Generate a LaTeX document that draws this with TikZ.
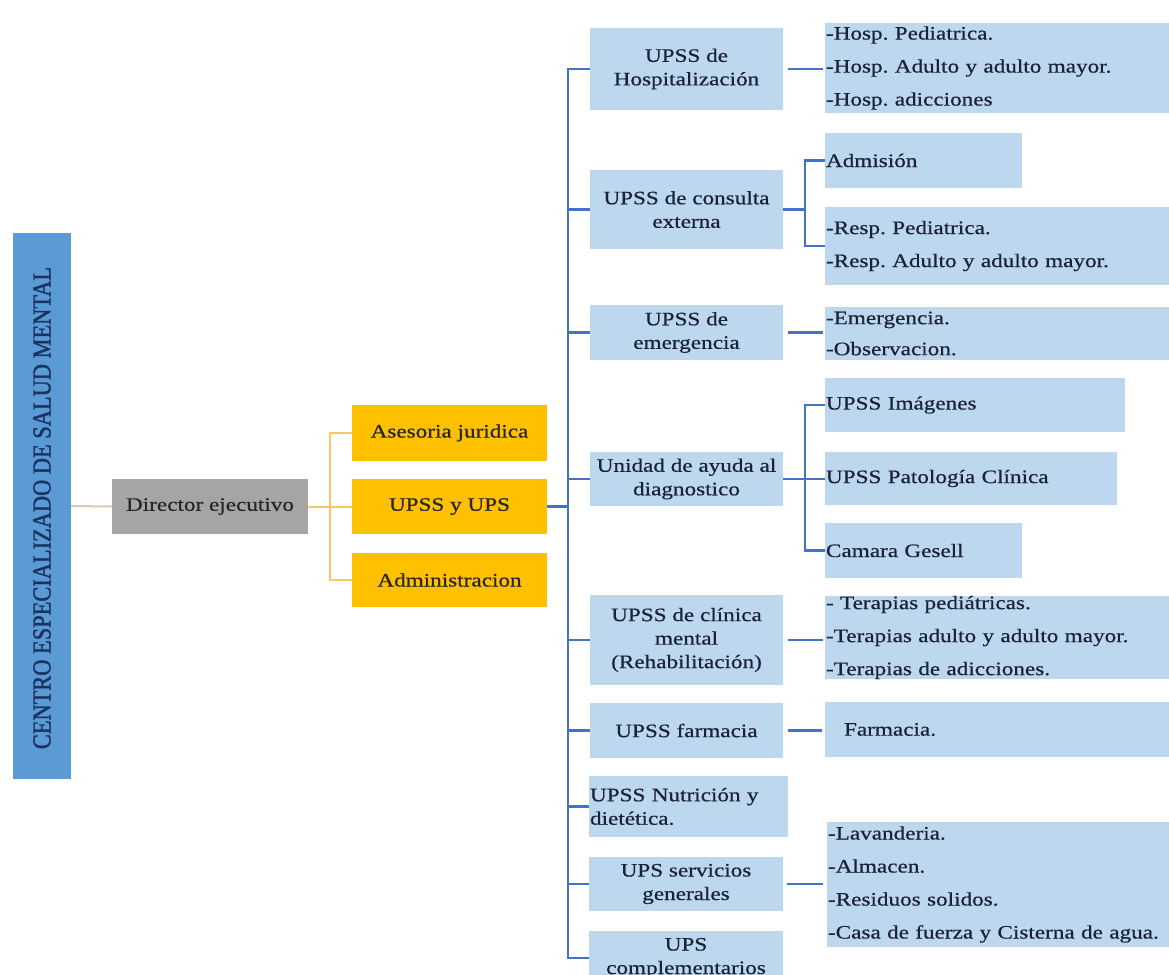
\documentclass[tikz,border=0pt]{standalone}
\usepackage{fontspec}
\setmainfont{Liberation Serif}[FakeStretch=1.22,FakeBold=0.6]
\newfontfamily\titlefont{Liberation Serif}[FakeBold=1.6]
\definecolor{bigblue}{HTML}{5B9BD5}
\definecolor{titletxt}{HTML}{1B3260}
\definecolor{lblue}{HTML}{BDD7EE}
\definecolor{txt}{HTML}{1A2238}
\definecolor{gbox}{HTML}{A5A5A5}
\definecolor{ybox}{HTML}{FFC000}
\definecolor{bline}{HTML}{4472C4}
\definecolor{oline}{HTML}{F6C866}
\definecolor{tline}{HTML}{D9CBAE}
\frenchspacing
\begin{document}
\begin{tikzpicture}[x=1pt,y=-1pt,
  basebox/.style={draw=none,inner sep=0pt,outer sep=0pt,text=txt},
  midbox/.style={basebox,fill=lblue,align=center,font=\fontsize{19}{23.5}\selectfont},
  leftbox/.style={basebox,fill=lblue,align=left,inner xsep=1pt,font=\fontsize{19}{23.5}\selectfont},
  rbox/.style={basebox,fill=lblue,align=left,inner xsep=1pt,font=\fontsize{19}{33}\selectfont},
  ybx/.style={basebox,fill=ybox,text=black!85,align=center,font=\fontsize{19}{23.5}\selectfont},
  busline/.style={draw=bline,line width=2.8pt},
  brline/.style={draw=bline,line width=2.2pt},
  orline/.style={draw=oline,line width=2pt},
  tanline/.style={draw=tline,line width=2pt}
]
\useasboundingbox (0,0) rectangle (1169,974);

% left title box
\node[basebox,fill=bigblue,minimum width=58pt,minimum height=546pt] (big) at (42,506) {};
\node[basebox,text=titletxt,rotate=90] (title) at (42,508)
  {\scalebox{1}[1.15]{\titlefont\fontsize{22.4}{26}\selectfont CENTRO ESPECIALIZADO DE SALUD MENTAL}};

% director
\node[basebox,fill=gbox,text=black!85,minimum width=196pt,minimum height=55pt,font=\fontsize{19}{23.5}\selectfont] (dir) at (210,506.5) {Director ejecutivo};

% yellow boxes
\node[ybx,minimum width=195pt,minimum height=56pt] (ases) at (449.5,433) {Asesoria juridica};
\node[ybx,minimum width=195pt,minimum height=55pt] (upss) at (449.5,506.5) {UPSS y UPS};
\node[ybx,minimum width=195pt,minimum height=54pt] (admin) at (449.5,580) {Administracion};

% middle column
\node[midbox,minimum width=193pt,minimum height=82pt] (hosp) at (686.5,69) {UPSS de\\Hospitalización};
\node[midbox,minimum width=193pt,minimum height=79pt] (cext) at (686.5,209.5) {UPSS de consulta\\externa};
\node[midbox,minimum width=193pt,minimum height=55pt] (emerg) at (686.5,332.5) {UPSS de\\emergencia};
\node[midbox,minimum width=193pt,minimum height=54pt] (diag) at (686.5,479) {Unidad de ayuda al\\diagnostico};
\node[midbox,minimum width=193pt,minimum height=90pt] (clin) at (686.5,640) {UPSS de clínica\\mental\\(Rehabilitación)};
\node[midbox,minimum width=193pt,minimum height=55pt] (farm) at (686.5,730.5) {UPSS farmacia};
\node[leftbox,minimum width=199pt,minimum height=61pt,text width=197pt] (nutr) at (688.5,806.5) {UPSS Nutrición y\\dietética.};
\node[midbox,minimum width=194pt,minimum height=54pt] (serv) at (686,884) {UPS servicios\\generales};
\node[midbox,minimum width=194pt,minimum height=54pt] (compl) at (686,958) {UPS\\complementarios};

% right column
\node[rbox,minimum width=350pt,minimum height=90pt,text width=348pt] (hospR) at (1000,68) {-Hosp. Pediatrica.\\-Hosp. Adulto y adulto mayor.\\-Hosp. adicciones};
\node[rbox,minimum width=197pt,minimum height=55pt,text width=195pt] (admis) at (923.5,160.5) {Admisión};
\node[rbox,minimum width=350pt,minimum height=78pt,text width=348pt] (resp) at (1000,246) {-Resp. Pediatrica.\\-Resp. Adulto y adulto mayor.};
\node[rbox,minimum width=350pt,minimum height=53pt,text width=348pt,font=\fontsize{19}{31}\selectfont] (emR) at (1000,333.5) {-Emergencia.\\-Observacion.};
\node[rbox,minimum width=300pt,minimum height=54pt,text width=298pt] (imag) at (975,405) {UPSS Imágenes};
\node[rbox,minimum width=292pt,minimum height=53pt,text width=290pt] (pato) at (971,478.5) {UPSS Patología Clínica};
\node[rbox,minimum width=197pt,minimum height=55pt,text width=195pt] (gesell) at (923.5,550.5) {Camara Gesell};
\node[rbox,minimum width=350pt,minimum height=81pt,text width=348pt] (terap) at (1000,637.5) {- Terapias pediátricas.\\-Terapias adulto y adulto mayor.\\-Terapias de adicciones.};
\node[rbox,minimum width=350pt,minimum height=55pt,text width=348pt] (farmR) at (1000,729.5) {\hspace*{18pt}Farmacia.};
\node[rbox,minimum width=348pt,minimum height=125pt,text width=346pt] (lav) at (1001,884.5) {-Lavanderia.\\-Almacen.\\-Residuos solidos.\\-Casa de fuerza y Cisterna de agua.};

% helper coordinates
\coordinate (obx) at (330,0);
\coordinate (busx) at (568,0);
\coordinate (brx) at (805,0);

% left connectors
\draw[tanline] (big.east) -- (dir.west);
\draw[orline] (dir.east) -- (dir.east -| obx);
\draw[orline] (ases.west) -- (ases.west -| obx) -- (admin.west -| obx) -- (admin.west);
\draw[orline] (upss.west) -- (upss.west -| obx);

% bus
\draw[brline] (upss.east) -- (upss.east -| busx);
\draw[busline] (hosp.west) -- (hosp.west -| busx) -- (compl.west -| busx) -- (compl.west);
\foreach \n in {cext,emerg,diag,clin,farm,nutr,serv}
  \draw[brline] (\n.west) -- (\n.west -| busx);

% right connectors
\draw[brline,shorten <=5pt,shorten >=2pt] (hosp.east) -- (hosp.east -| hospR.west);
\draw[brline] (cext.east) -- (cext.east -| brx);
\draw[brline] (admis.west) -- (admis.west -| brx) -- (resp.west -| brx) -- (resp.west);
\draw[brline,shorten <=5pt,shorten >=2pt] (emerg.east) -- (emerg.east -| emR.west);
\draw[brline] (diag.east) -- (diag.east -| pato.west);
\draw[brline] (imag.west) -- (imag.west -| brx) -- (gesell.west -| brx) -- (gesell.west);
\draw[brline,shorten <=5pt,shorten >=2pt] (clin.east) -- (clin.east -| terap.west);
\draw[brline,shorten <=5pt,shorten >=3pt] (farm.east) -- (farm.east -| farmR.west);
\draw[brline,shorten <=4pt,shorten >=4pt] (serv.east) -- (serv.east -| lav.west);
\end{tikzpicture}
\end{document}
